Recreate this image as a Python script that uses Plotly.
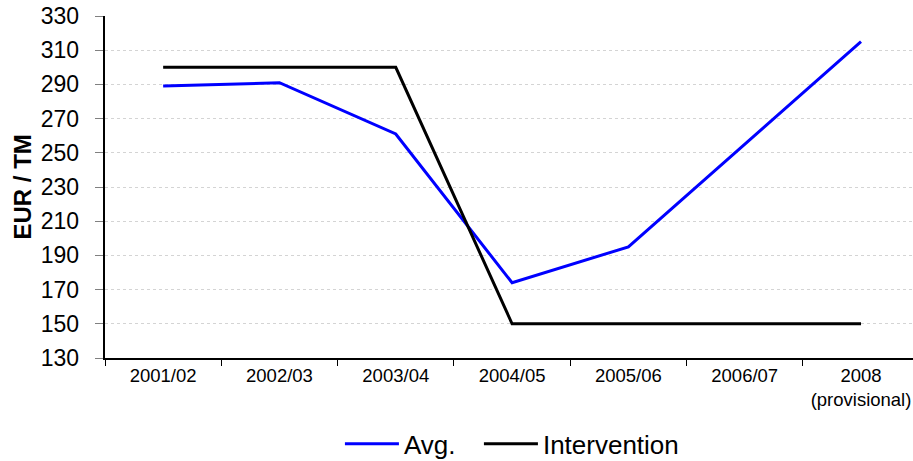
import plotly.graph_objects as go

categories = ["2001/02", "2002/03", "2003/04", "2004/05", "2005/06", "2006/07", "2008<br>(provisional)"]
avg_values = [289, 291, 261, 174, 195, 255, 315]
intervention_values = [300, 300, 300, 150, 150, 150, 150]
y_ticks = list(range(130, 331, 20))
y_tick_labels = [str(v) for v in y_ticks]

fig = go.Figure()
fig.add_trace(go.Scatter(x=categories, y=avg_values, mode="lines", name="Avg.",
                         line=dict(color="#0000ff", width=3), legendwidth=70))
fig.add_trace(go.Scatter(x=categories, y=intervention_values, mode="lines", name="Intervention",
                         line=dict(color="#000000", width=3), legendwidth=135))

fig.update_layout(
    width=913, height=461,
    margin=dict(l=105, r=0, t=16, b=103, autoexpand=False),
    paper_bgcolor="white", plot_bgcolor="white",
    font=dict(family="Liberation Sans, Arial, sans-serif", color="black"),
    showlegend=True,
    legend=dict(orientation="h", x=0.503, xanchor="center", y=-0.251, yanchor="middle",
                font=dict(size=26), itemwidth=54, traceorder="normal"),
    annotations=[dict(text="<b>EUR / TM</b>", xref="paper", yref="paper",
                      x=0, y=0.5, xanchor="center", yanchor="middle", xshift=-83.5,
                      textangle=-90, showarrow=False, font=dict(size=24, color="black"))],
)
fig.update_xaxes(
    type="category", range=[-0.5, 6.447], automargin=False,
    tickson="boundaries", ticks="outside", ticklen=6, tickcolor="black",
    showline=True, linecolor="black", linewidth=1.5,
    showgrid=False, tickfont=dict(size=18.5), fixedrange=True,
)
fig.update_yaxes(
    range=[130, 330], tickvals=y_ticks, ticktext=[t + "\u2002" for t in y_tick_labels],
    ticks="outside", ticklen=8, tickcolor="#808080",
    showline=True, linecolor="black", linewidth=1.5, automargin=False,
    showgrid=True, gridcolor="#d4d4d4", griddash="dot", gridwidth=1,
    tickfont=dict(size=23), ticklabeloverflow="allow",
    zeroline=False, fixedrange=True,
)

fig.write_html("out.html", config={"displayModeBar": False},
               post_script="document.body.style.margin='0';document.body.style.overflow='hidden';")
